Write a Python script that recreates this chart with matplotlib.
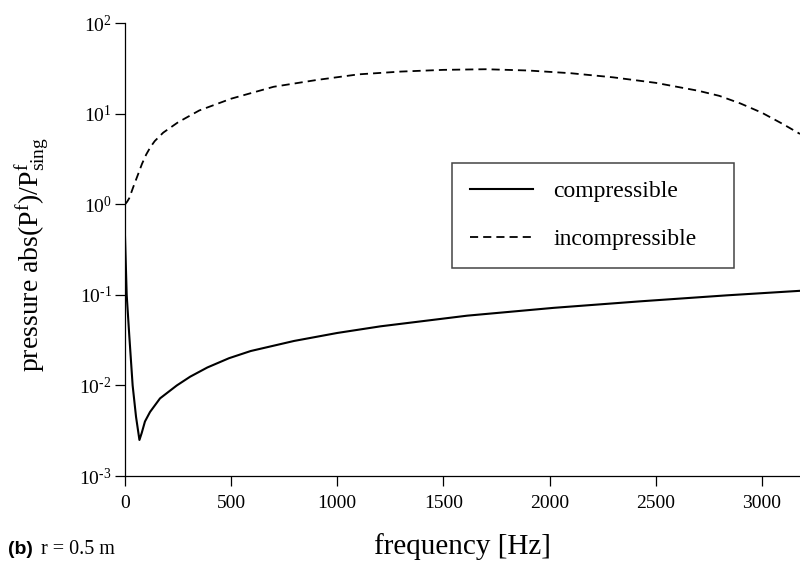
import math
import matplotlib
matplotlib.use("Agg")
import matplotlib.pyplot as plt
from matplotlib.ticker import FixedLocator, FuncFormatter

plt.rcParams['font.family'] = 'Liberation Serif'
plt.rcParams['mathtext.fontset'] = 'custom'
plt.rcParams['mathtext.rm'] = 'Liberation Serif'
plt.rcParams['mathtext.it'] = 'Liberation Serif'

# values
freq_comp = [0, 8, 20, 36, 52, 68, 79, 94, 118, 165, 244, 307, 388, 490, 592, 796,
             1000, 1204, 1612, 2020, 2429, 2837, 3180]
p_comp = [0.44, 0.1, 0.036, 0.01, 0.0045, 0.0025, 0.0030, 0.0040, 0.0051, 0.0072,
          0.0100, 0.0125, 0.0158, 0.0200, 0.0240, 0.031, 0.038, 0.045, 0.059, 0.072,
          0.085, 0.099, 0.111]

freq_inc = [0, 10, 20, 40, 60, 80, 100, 120, 140, 180, 250, 350, 500, 700, 900, 1100,
            1300, 1500, 1700, 1900, 2100, 2300, 2500, 2700, 2800, 2900, 3000, 3100, 3180]
p_inc = [1.0, 1.07, 1.17, 1.58, 2.1, 2.8, 3.56, 4.3, 5.0, 6.2, 8.07, 10.9, 14.7, 19.9,
         23.6, 27.3, 29.3, 30.6, 31.1, 30.1, 28.1, 25.3, 22.0, 18.0, 15.8, 13.0, 10.3,
         7.7, 6.0]

xticks = [0, 500, 1000, 1500, 2000, 2500, 3000]
yticks = [1e-3, 1e-2, 1e-1, 1e0, 1e1, 1e2]


def ylab(v, pos):
    e = int(round(math.log10(v)))
    if e < 0:
        return r'$\mathregular{10^{\text{-}%d}}$' % (-e)
    return r'$\mathregular{10^{%d}}$' % e


fig = plt.figure(figsize=(8, 5.62), dpi=100)
ax = fig.add_axes([125/800, 1 - 476/562, 675/800, (476 - 23.3)/562])

ax.plot(freq_comp, p_comp, color='black', lw=1.5, label='compressible')
ax.plot(freq_inc, p_inc, color='black', lw=1.3, dashes=(4.5, 2.8), label='incompressible')

ax.set_yscale('log')
ax.set_xlim(0, 3180)
ax.set_ylim(1e-3, 1e2)

ax.spines['top'].set_visible(False)
ax.spines['right'].set_visible(False)
for s in ('left', 'bottom'):
    ax.spines[s].set_linewidth(0.9)

ax.xaxis.set_major_locator(FixedLocator(xticks))
ax.yaxis.set_major_locator(FixedLocator(yticks))
ax.yaxis.set_minor_locator(FixedLocator([]))
ax.yaxis.set_major_formatter(FuncFormatter(ylab))
ax.tick_params(direction='out', length=7.5, width=0.9, labelsize=14)
ax.tick_params(axis='x', pad=6)
ax.tick_params(axis='y', pad=2)

ax.set_xlabel('frequency [Hz]', fontsize=21)
ax.xaxis.set_label_coords(0.5, -0.125)
ax.set_ylabel(r'pressure abs(P$^\mathregular{f}$)/P$^\mathregular{f}_\mathregular{sing}$',
              fontsize=20)
ax.yaxis.set_label_coords(-0.108, 0.49)

leg = ax.legend(loc='upper left', bbox_to_anchor=(0.4844, 0.4617, 0.4178, 0.2297),
                mode='expand', borderaxespad=0, fancybox=False, framealpha=1,
                edgecolor='#444444', fontsize=17, handlelength=2.7,
                handletextpad=0.85, labelspacing=1.13, borderpad=0.75)
leg.get_frame().set_linewidth(1.1)

fig.text(8/800, 1 - 549/562, '(b)', fontsize=14, fontweight='bold',
         family='Liberation Sans', va='center', ha='left')
fig.text(41/800, 1 - 549/562, 'r = 0.5 m', fontsize=14.5, va='center', ha='left')

fig.savefig('out.png', dpi=100)
